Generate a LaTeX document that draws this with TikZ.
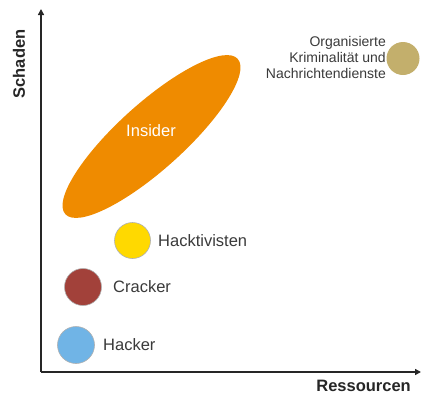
\documentclass[tikz,border=0pt]{standalone}
\usepackage{fontspec}
\setmainfont{Liberation Sans}
\usetikzlibrary{arrows.meta,shapes.geometric}
\definecolor{axisgray}{HTML}{262626}
\definecolor{labelgray}{HTML}{3A3A3A}
\definecolor{insiderorange}{HTML}{EF8B00}
\definecolor{hacktivyellow}{HTML}{FFD900}
\definecolor{crackerred}{HTML}{A2413A}
\definecolor{hackerblue}{HTML}{70B4E6}
\definecolor{orgtan}{HTML}{C3AF6C}
\definecolor{rimgray}{HTML}{B0B0B0}
\begin{document}
\begin{tikzpicture}[x=1pt,y=-1pt,
  axisline/.style={draw=axisgray,line width=1.8pt,-{Triangle[length=6pt,width=6pt]}},
  axislabel/.style={font=\fontsize{16.5}{19}\selectfont\bfseries,text=axisgray,inner sep=0pt},
  actor/.style={circle,draw=rimgray,line width=0.6pt,minimum size=#1,inner sep=0pt},
  tag/.style={font=\fontsize{16.5}{19}\selectfont,text=labelgray,inner sep=0pt,anchor=west}]
\useasboundingbox (0,0) rectangle (422,394);

% axes
\coordinate (origin) at (41,372);
\coordinate (ytip) at (41,9);
\coordinate (xtip) at (421,372);
\draw[axisline] (origin) -- (ytip);
\draw[axisline] (origin) -- (xtip);
\node[axislabel,rotate=90] (schaden) at (19,64) {Schaden};
\node[axislabel,anchor=east] (ressourcen) at (411,385.5) {Ressourcen};

% insider ellipse
\node[ellipse,fill=insiderorange,minimum width=232pt,minimum height=66pt,
      inner sep=0pt,rotate=42] (insider) at (151.5,136.5) {};
\node[font=\fontsize{16.5}{19}\selectfont,text=white,inner sep=0pt] (insidertext) at (151,131) {Insider};

% actors
\node[actor=36pt,fill=hacktivyellow] (hacktiv) at (132.5,240.5) {};
\node[tag] (hacktivtext) at (158,240.5) {Hacktivisten};
\node[actor=37pt,fill=crackerred] (cracker) at (83,287) {};
\node[tag] (crackertext) at (113,287) {Cracker};
\node[actor=37pt,fill=hackerblue] (hacker) at (76,345) {};
\node[tag] (hackertext) at (103,345) {Hacker};
\node[actor=33pt,fill=orgtan,draw=none] (org) at (403,58.5) {};
\node[font=\fontsize{14}{16}\selectfont,text=labelgray,align=right,inner sep=0pt,anchor=east] (orgtext) at (386,57.5)
  {Organisierte\\Kriminalität und\\Nachrichtendienste};
\end{tikzpicture}
\end{document}
